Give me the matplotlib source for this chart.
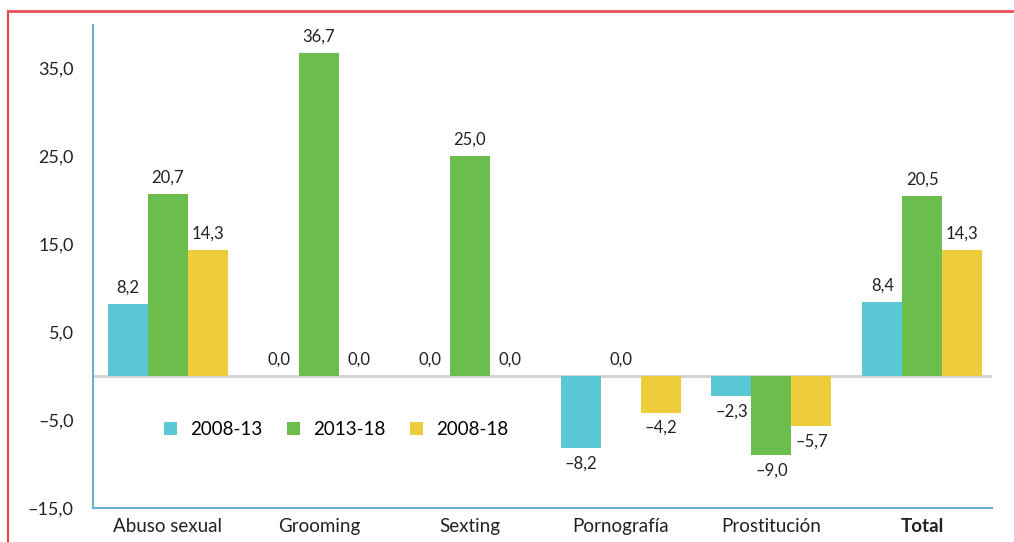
import matplotlib.pyplot as plt
from matplotlib.lines import Line2D
import numpy as np

categorias = ['Abuso sexual', 'Grooming', 'Sexting', 'Pornografía', 'Prostitución', 'Total']
periodos = ['2008-13', '2013-18', '2008-18']
v_2008_13 = [8.2, 0.0, 0.0, -8.2, -2.3, 8.4]
v_2013_18 = [20.7, 36.7, 25.0, 0.0, -9.0, 20.5]
v_2008_18 = [14.3, 0.0, 0.0, -4.2, -5.7, 14.3]
colores = ['#5BC8D6', '#6CBE4C', '#EDCD3C']

plt.rcParams['font.family'] = ['Lato', 'DejaVu Sans']

fig = plt.figure(figsize=(10.14, 5.42), dpi=100)
ax = fig.add_axes([0.0917, 0.0627, 0.8863, 0.8913])

x = np.arange(len(categorias))
w = 0.265
series = [v_2008_13, v_2013_18, v_2008_18]
for i, (vals, col, lab) in enumerate(zip(series, colores, periodos)):
    pos = x + (i - 1) * w
    ax.bar(pos, vals, width=w, color=col, label=lab, zorder=2)
    for px, v in zip(pos, vals):
        txt = ('%.1f' % abs(v)).replace('.', ',')
        if v < 0:
            txt = '\u2013' + txt
            ax.annotate(txt, (px, v), xytext=(0, -5), textcoords='offset points',
                        ha='center', va='top', fontsize=12, color='#222222')
        else:
            ax.annotate(txt, (px, v), xytext=(0, 6), textcoords='offset points',
                        ha='center', va='bottom', fontsize=12, color='#222222')

ax.axhline(0, color='#d2d2d2', lw=2, zorder=1)
ax.set_xlim(-0.497, 5.46)
ax.set_ylim(-15, 39.9)
ticks = [35, 25, 15, 5, -5, -15]
ax.set_yticks(ticks)
ax.set_yticklabels([('%.1f' % t).replace('.', ',').replace('-', '\u2013') for t in ticks],
                   fontsize=13, color='#222222')
ax.set_xticks(x)
ax.set_xticklabels(categorias, fontsize=13.5, color='#222222')
ax.get_xticklabels()[-1].set_fontweight('bold')
ax.tick_params(length=0)
ax.tick_params(axis='x', pad=7)
ax.tick_params(axis='y', pad=14)

for s in ['top', 'right']:
    ax.spines[s].set_visible(False)
for s in ['left', 'bottom']:
    ax.spines[s].set_color('#6BAED6')
    ax.spines[s].set_linewidth(1.5)

leg = ax.legend(loc='lower left', bbox_to_anchor=(0.06, 0.11), ncol=3, frameon=False,
                fontsize=13.5, handlelength=0.7, handleheight=0.7, columnspacing=1.3,
                handletextpad=0.7)

# marco rojo de la figura
fig.add_artist(Line2D([8 / 1014, 8 / 1014], [0, 1 - 11 / 542], color='#F03A44', lw=1.5))
fig.add_artist(Line2D([8 / 1014, 1], [1 - 11 / 542, 1 - 11 / 542], color='#E8505A', lw=2))

fig.savefig('out.png', dpi=100)
